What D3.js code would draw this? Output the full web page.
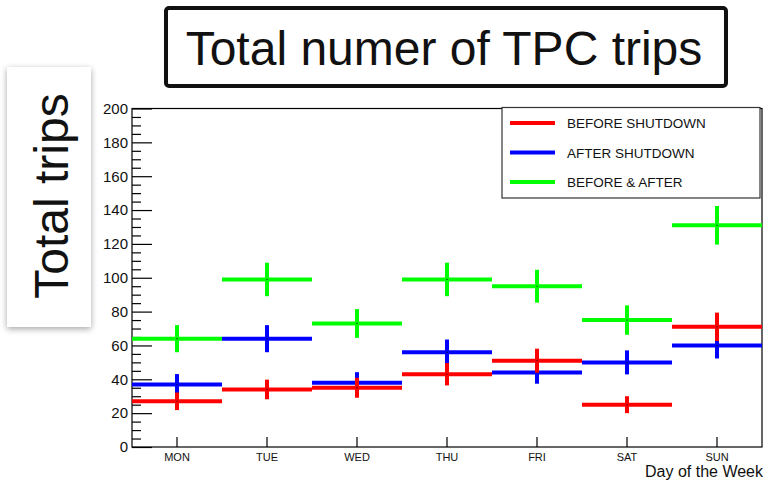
<!DOCTYPE html>
<html>
<head>
<meta charset="utf-8">
<script src="https://cdn.jsdelivr.net/npm/d3@7"></script>
<style>
  body { margin: 0; background: #fff; }
  svg { display: block; font-family: "Liberation Sans", Arial, Helvetica, sans-serif; }
</style>
</head>
<body>
<svg id="chart" width="768" height="482"></svg>
<script>
// day bins
const days = ['MON', 'TUE', 'WED', 'THU', 'FRI', 'SAT', 'SUN'];

// trips per day
const beforeShutdown = [27, 34, 35, 43, 51, 25, 71];
const afterShutdown = [37, 64, 38, 56, 44, 50, 60];
const beforeAndAfter = [64, 99, 73, 99, 95, 75, 131];

// statistical error bars (half length)
const beforeErr = [5.2, 5.8, 5.9, 6.6, 7.1, 5.0, 8.4];
const afterErr = [6.1, 8.0, 6.2, 7.5, 6.6, 7.1, 7.7];
const bothErr = [8.0, 9.9, 8.5, 9.9, 9.7, 8.7, 11.4];

const yMajor = [0, 20, 40, 60, 80, 100, 120, 140, 160, 180, 200];

const seriesNames = ['BEFORE SHUTDOWN', 'AFTER SHUTDOWN', 'BEFORE & AFTER'];
const seriesColors = ['#ff0000', '#0000ff', '#00ff00'];

const svg = d3.select('#chart');

const plotL = 132, plotR = 762, plotT = 108.5, plotB = 447;

const x = d3.scaleBand().domain(days).range([plotL, plotR]).padding(0);
const y = d3.scaleLinear().domain([0, 200]).range([plotB, plotT]);

// frame
svg.append('rect')
    .attr('x', plotL).attr('y', plotT)
    .attr('width', plotR - plotL).attr('height', plotB - plotT)
    .attr('fill', 'none').attr('stroke', '#000').attr('stroke-width', 1.2);

// y axis: major + minor ticks pointing inward
const yAxis = svg.append('g').attr('transform', `translate(${plotL},0)`)
    .call(d3.axisLeft(y).tickValues(yMajor).tickSize(-20).tickSizeOuter(0).tickPadding(4));
yAxis.select('.domain').remove();
yAxis.selectAll('line').attr('stroke', '#000').attr('stroke-width', 1.2);
yAxis.selectAll('text').attr('font-size', 15).attr('fill', '#111')
    .attr('font-family', '"Liberation Sans", Arial, sans-serif');

const yMinor = svg.append('g').attr('transform', `translate(${plotL},0)`)
    .call(d3.axisLeft(y).tickValues(d3.range(0, 201, 5).filter(v => v % 20 !== 0))
        .tickSize(-9).tickSizeOuter(0).tickFormat(''));
yMinor.select('.domain').remove();
yMinor.selectAll('line').attr('stroke', '#000').attr('stroke-width', 1.2);

// x axis at bin centres
const xAxis = svg.append('g').attr('transform', `translate(0,${plotB})`)
    .call(d3.axisBottom(x).tickSize(-10).tickSizeOuter(0).tickPadding(6));
xAxis.select('.domain').remove();
xAxis.selectAll('line').attr('stroke', '#000').attr('stroke-width', 1.2);
xAxis.selectAll('text').attr('font-size', 11).attr('fill', '#111')
    .attr('font-family', '"Liberation Sans", Arial, sans-serif');

svg.append('text')
    .attr('x', 763).attr('y', 477)
    .attr('text-anchor', 'end')
    .attr('font-size', 16).attr('fill', '#111')
    .text('Day of the Week');

// error-bar crosses: green first, then blue, then red on top
const series = [
    { vals: beforeAndAfter, errs: bothErr, color: seriesColors[2] },
    { vals: afterShutdown, errs: afterErr, color: seriesColors[1] },
    { vals: beforeShutdown, errs: beforeErr, color: seriesColors[0] }
];

series.forEach(s => {
    const g = svg.append('g');
    const pts = days.map((d, i) => ({ day: d, v: s.vals[i], e: s.errs[i] }));
    g.selectAll('line.h').data(pts).join('line')
        .attr('class', 'h')
        .attr('x1', d => x(d.day)).attr('x2', d => x(d.day) + x.bandwidth())
        .attr('y1', d => y(d.v)).attr('y2', d => y(d.v))
        .attr('stroke', s.color).attr('stroke-width', 4);
    g.selectAll('line.v').data(pts).join('line')
        .attr('class', 'v')
        .attr('x1', d => x(d.day) + x.bandwidth() / 2).attr('x2', d => x(d.day) + x.bandwidth() / 2)
        .attr('y1', d => y(d.v - d.e)).attr('y2', d => y(d.v + d.e))
        .attr('stroke', s.color).attr('stroke-width', 4);
    g.selectAll('rect.dot').data(pts).join('rect')
        .attr('class', 'dot')
        .attr('x', d => x(d.day) + x.bandwidth() / 2 - 0.5).attr('y', d => y(d.v) - 0.5)
        .attr('width', 1).attr('height', 1).attr('fill', '#000');
});

// legend
const legend = svg.append('g');
legend.append('rect')
    .attr('x', 502).attr('y', 107.5).attr('width', 258).attr('height', 90.5)
    .attr('fill', '#fff').attr('stroke', '#333').attr('stroke-width', 1.2);
seriesNames.forEach((name, i) => {
    const ly = 123 + i * 29.5;
    legend.append('line')
        .attr('x1', 510).attr('x2', 555).attr('y1', ly).attr('y2', ly)
        .attr('stroke', seriesColors[i]).attr('stroke-width', 4);
    legend.append('text')
        .attr('x', 567).attr('y', ly + 5)
        .attr('font-size', 13.5).attr('fill', '#111')
        .text(name);
});

// title box
svg.append('rect')
    .attr('x', 166).attr('y', 8).attr('width', 560).attr('height', 78)
    .attr('rx', 3)
    .attr('fill', '#fff').attr('stroke', '#111').attr('stroke-width', 4);
svg.append('text')
    .attr('x', 444).attr('y', 65)
    .attr('text-anchor', 'middle')
    .attr('font-size', 48).attr('fill', '#111')
    .text('Total numer of TPC trips');

// y label in a shadowed box
const defs = svg.append('defs');
const f = defs.append('filter').attr('id', 'shadow')
    .attr('x', '-20%').attr('y', '-10%').attr('width', '140%').attr('height', '120%');
f.append('feDropShadow').attr('dx', 0).attr('dy', 2).attr('stdDeviation', 3)
    .attr('flood-color', '#000').attr('flood-opacity', 0.35);

svg.append('rect')
    .attr('x', 7).attr('y', 67).attr('width', 84).attr('height', 260)
    .attr('fill', '#fff').attr('filter', 'url(#shadow)');
svg.append('text')
    .attr('transform', 'translate(68,196) rotate(-90)')
    .attr('text-anchor', 'middle')
    .attr('font-size', 48).attr('fill', '#111')
    .text('Total trips');
</script>
</body>
</html>
